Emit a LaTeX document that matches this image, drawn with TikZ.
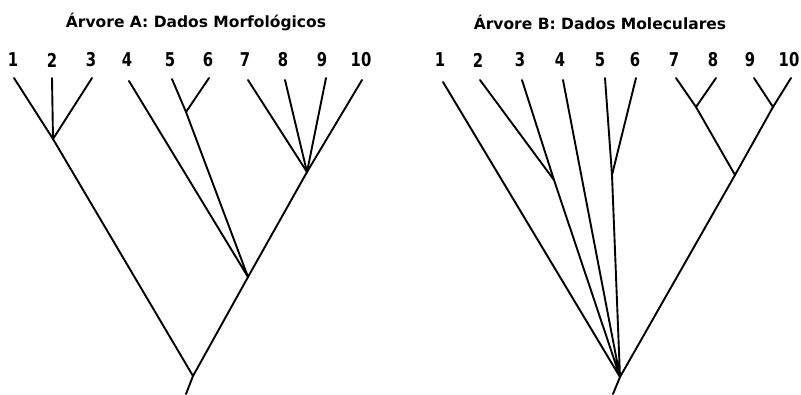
\documentclass[tikz,border=0pt]{standalone}
\usepackage{fontspec}
\setmainfont{DejaVu Sans}
\newfontfamily\digitos[FakeStretch=0.78]{DejaVu Sans}
\begin{document}
\begin{tikzpicture}[x=1pt,y=-1pt, line width=1.9pt, line join=round, line cap=round,
	titulo/.style={font=\fontsize{15.5}{17}\selectfont\bfseries, inner sep=0pt},
	taxon/.style={font=\digitos\fontsize{19}{20}\selectfont\bfseries, inner sep=0pt}]
	\useasboundingbox (0,0) rectangle (801,394);
	% arvore A
	\node[titulo] (tA) at (196,22) {Árvore A: Dados Morfológicos};
	\foreach \n/\x in {1/13,2/52,3/91,4/127,5/170,6/208,7/245,8/283,9/322,10/361}
	{\node[taxon] (a\n) at (\x,60) {\n};}
	\foreach \n/\x/\y in {1/14/78,2/52/78,3/92/78,4/129/81,5/172/79,6/209/78,7/248/80,8/285/80,9/326/78,10/362/80}
	{\coordinate (pa\n) at (\x,\y);}
	\coordinate (a123) at (53,139);
	\coordinate (a56) at (186,112);
	\coordinate (a710) at (307,172);
	\coordinate (a410) at (248,277);
	\coordinate (araiz) at (193,376);
	\coordinate (abase) at (186,394);
	\foreach \n in {1,2,3} {\draw (pa\n)--(a123);}
	\foreach \n in {5,6} {\draw (pa\n)--(a56);}
	\foreach \n in {7,8,9,10} {\draw (pa\n)--(a710);}
	\draw (pa4)--(a410) (a56)--(a410) (a710)--(a410);
	\draw (a123)--(araiz) (a410)--(araiz)--(abase);
	% arvore B
	\node[titulo] (tB) at (600,22) {Árvore B: Dados Moleculares};
	\foreach \n/\x in {1/440,2/478,3/520,4/560,5/600,6/635,7/674,8/713,9/750,10/789}
	{\node[taxon] (b\n) at (\x,60) {\n};}
	\foreach \n/\x/\y in {1/443/82,2/480/80,3/522/80,4/563/80,5/605/78,6/636/78,7/676/78,8/716/78,9/754/78,10/791/78}
	{\coordinate (pb\n) at (\x,\y);}
	\coordinate (b23) at (554,180);
	\coordinate (b56) at (612,175);
	\coordinate (b78) at (696,107);
	\coordinate (b910) at (773,107);
	\coordinate (b710) at (735,175);
	\coordinate (braiz) at (620,377);
	\coordinate (bbase) at (613,394);
	\foreach \n in {2,3} {\draw (pb\n)--(b23);}
	\foreach \n in {5,6} {\draw (pb\n)--(b56);}
	\foreach \n in {7,8} {\draw (pb\n)--(b78);}
	\foreach \n in {9,10} {\draw (pb\n)--(b910);}
	\draw (b78)--(b710) (b910)--(b710);
	\draw (pb1)--(braiz) (b23)--(braiz) (pb4)--(braiz) (b56)--(braiz) (b710)--(braiz)--(bbase);
\end{tikzpicture}
\end{document}
